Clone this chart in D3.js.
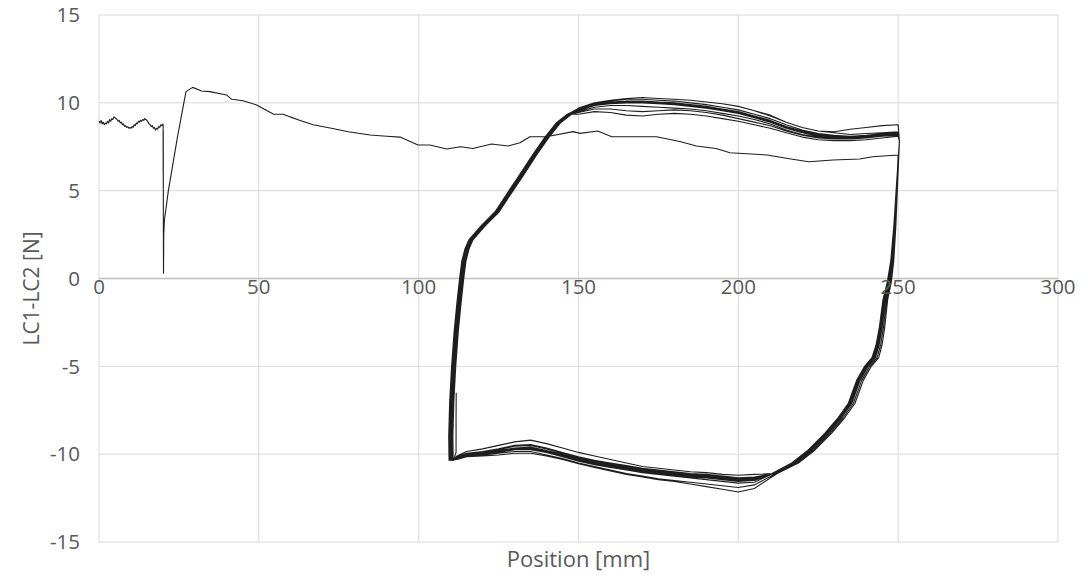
<!DOCTYPE html>
<html>
<head>
<meta charset="utf-8">
<script src="https://cdn.jsdelivr.net/npm/d3@7"></script>
<style>
  html, body { margin: 0; padding: 0; background: #ffffff; }
  svg { display: block; }
  text { font-family: "Open Sans", "Noto Sans", sans-serif; fill: #595959; }
</style>
</head>
<body>
<svg id="chart" width="1088" height="580"></svg>
<script>
// Axis ticks
const xTicks = [0, 50, 100, 150, 200, 250, 300];
const yTicks = [-15, -10, -5, 0, 5, 10, 15];
const xTitle = "Position [mm]";
const yTitle = "LC1-LC2 [N]";

// First stroke from the start position out to 250 mm: [position, force]
const firstPass = [
  [0.0, 8.95], [0.33, 8.85], [0.67, 9.0], [1.0, 8.8], [1.33, 8.9], [1.67, 8.75], [2.0, 8.85],
  [2.33, 8.8], [2.67, 8.95], [3.0, 8.85], [3.33, 9.05], [3.67, 8.95], [4.0, 9.1], [4.33, 9.05],
  [4.67, 9.2], [5.0, 9.15], [5.33, 9.1], [5.67, 9.05], [6.0, 8.95], [6.33, 9.0], [6.67, 8.85],
  [7.0, 8.9], [7.33, 8.75], [7.67, 8.8], [8.0, 8.65], [8.33, 8.7], [8.67, 8.6], [9.0, 8.65],
  [9.33, 8.55], [9.67, 8.6], [10.0, 8.55], [10.33, 8.65], [10.67, 8.6], [11.0, 8.75], [11.33, 8.7],
  [11.67, 8.85], [12.0, 8.8], [12.33, 8.95], [12.67, 8.9], [13.0, 9.0], [13.33, 8.95], [13.67, 9.05],
  [14.0, 9.0], [14.33, 9.1], [14.67, 9.05], [15.0, 9.0], [15.33, 8.9], [15.67, 8.8], [16.0, 8.75],
  [16.33, 8.65], [16.67, 8.7], [17.0, 8.55], [17.33, 8.6], [17.67, 8.45], [18.0, 8.55], [18.33, 8.5],
  [18.67, 8.65], [19.0, 8.6], [19.33, 8.75], [19.67, 8.7], [20.0, 8.8],
  [20.05, 8.7], [20.08, 6.0], [20.1, 8.4], [20.13, 3.0], [20.18, 0.3], [20.25, 2.5], [20.45, 3.3],
  [21.7, 5.0], [24.5, 8.0], [27.2, 10.64], [29.3, 10.88], [32.1, 10.67], [34.7, 10.64],
  [39.9, 10.45], [41.5, 10.2], [45.1, 10.12], [49.3, 9.88], [54.5, 9.36], [57.7, 9.35],
  [59.8, 9.2], [62.9, 9.0], [67.0, 8.75], [72.3, 8.57], [78.0, 8.35], [84.8, 8.17], [90.0, 8.1],
  [94.2, 8.05], [99.8, 7.6], [103.5, 7.6], [108.8, 7.37], [113.0, 7.5], [117.0, 7.4],
  [122.8, 7.66], [128.0, 7.54], [131.7, 7.73], [134.8, 8.07], [140.0, 8.07], [148.3, 8.36],
  [150.5, 8.26], [156.0, 8.4], [160.4, 8.07], [174.4, 8.07], [181.7, 7.8], [186.9, 7.54],
  [193.0, 7.4], [197.4, 7.16], [209.0, 7.03], [215.0, 6.85], [222.0, 6.65], [229.6, 6.75],
  [238.0, 6.8], [242.0, 6.93], [250.0, 7.03]
];

// Reversal at 250 mm (right flank), top to bottom
const rightX = [250.4, 249.6, 248.8, 247.9, 246.9, 245.6, 244.5, 243.5, 242.3, 240.0, 237.5, 234.9, 231.8, 227.6, 222.4, 217.2, 210.9];
const rightY = [7.8, 5.5, 3.0, 1.0, -0.2, -1.2, -2.8, -3.8, -4.5, -5.0, -5.8, -7.1, -7.9, -8.8, -9.76, -10.5, -11.1];
const rightW = [0, 0.15, 0.3, 0.45, 0.6, 0.7, 0.8, 0.9, 1, 1, 1, 1, 1, 1, 1, 1, 0.8];

// Reversal at 110 mm (left flank), bottom to top
const leftX = [110.0, 109.9, 110.2, 110.8, 111.6, 112.4, 113.3, 114.0, 115.0, 116.2, 120.0, 124.4, 128.0, 131.7, 136.0, 140.0, 143.5, 147.0];
const leftY = [-10.35, -9.0, -7.0, -5.0, -3.0, -1.5, 0.0, 1.0, 1.7, 2.2, 3.0, 3.8, 4.8, 5.8, 7.0, 8.05, 8.85, 9.35];

// Return stroke (250 -> 110 mm) stations and force per cycle
const bottomX = [205, 200, 195, 190, 185, 180, 175, 170, 165, 160, 155, 150, 145, 140, 135, 130, 125, 120, 115, 112];
const bottoms = [
  [-11.3, -11.35, -11.3, -11.2, -11.15, -11.05, -10.95, -10.85, -10.7, -10.55, -10.4, -10.2, -9.95, -9.7, -9.5, -9.55, -9.75, -9.9, -10.0, -10.2],
  [-11.4, -11.45, -11.35, -11.25, -11.2, -11.1, -11.0, -10.95, -10.8, -10.65, -10.5, -10.3, -10.05, -9.85, -9.65, -9.7, -9.85, -9.95, -10.05, -10.25],
  [-11.95, -12.15, -12.0, -11.85, -11.7, -11.55, -11.45, -11.3, -11.15, -10.95, -10.75, -10.55, -10.3, -10.1, -9.95, -9.95, -10.05, -10.1, -10.15, -10.3],
  [-11.5, -11.55, -11.45, -11.35, -11.3, -11.2, -11.1, -11.0, -10.85, -10.7, -10.55, -10.35, -10.1, -9.9, -9.7, -9.75, -9.9, -10.0, -10.1, -10.3],
  [-11.15, -11.2, -11.15, -11.05, -11.0, -10.9, -10.8, -10.7, -10.5, -10.3, -10.1, -9.9, -9.65, -9.4, -9.2, -9.3, -9.5, -9.7, -9.85, -10.1],
  [-11.45, -11.5, -11.4, -11.3, -11.25, -11.15, -11.05, -10.95, -10.8, -10.65, -10.45, -10.25, -10.0, -9.8, -9.6, -9.65, -9.8, -9.95, -10.05, -10.25],
  [-11.75, -11.9, -11.8, -11.7, -11.6, -11.5, -11.4, -11.25, -11.1, -10.9, -10.7, -10.5, -10.25, -10.05, -9.85, -9.85, -9.95, -10.05, -10.1, -10.3],
  [-11.3, -11.35, -11.25, -11.15, -11.1, -11.0, -10.9, -10.8, -10.65, -10.5, -10.35, -10.15, -9.9, -9.65, -9.45, -9.5, -9.7, -9.85, -9.95, -10.15],
  [-11.5, -11.5, -11.4, -11.3, -11.25, -11.15, -11.05, -11.0, -10.85, -10.7, -10.5, -10.3, -10.05, -9.85, -9.7, -9.75, -9.9, -10.0, -10.1, -10.25],
  [-11.4, -11.45, -11.35, -11.3, -11.2, -11.1, -11.0, -10.9, -10.75, -10.6, -10.45, -10.25, -10.0, -9.8, -9.6, -9.65, -9.85, -9.95, -10.05, -10.2],
  [-11.6, -11.65, -11.55, -11.45, -11.35, -11.25, -11.15, -11.05, -10.9, -10.75, -10.6, -10.4, -10.15, -9.9, -9.75, -9.75, -9.9, -10.0, -10.1, -10.3],
  [-11.45, -11.5, -11.4, -11.3, -11.2, -11.1, -11.0, -10.9, -10.8, -10.65, -10.5, -10.3, -10.05, -9.85, -9.65, -9.7, -9.85, -9.95, -10.05, -10.25],
  [-11.35, -11.4, -11.35, -11.25, -11.15, -11.05, -10.95, -10.9, -10.75, -10.6, -10.45, -10.25, -10.0, -9.8, -9.6, -9.65, -9.8, -9.95, -10.05, -10.2]
];

// Forward stroke (150 -> 250 mm) stations and force per cycle
const topX = [150, 155, 160, 165, 170, 175, 180, 185, 190, 195, 200, 205, 210, 215, 220, 225, 230, 235, 240, 245, 250];
const tops = [
  [9.55, 9.85, 10.0, 10.1, 10.1, 10.05, 10.0, 9.9, 9.8, 9.65, 9.5, 9.25, 9.0, 8.65, 8.4, 8.2, 8.1, 8.05, 8.1, 8.2, 8.25],
  [9.7, 10.0, 10.15, 10.25, 10.3, 10.25, 10.2, 10.15, 10.05, 9.95, 9.8, 9.55, 9.25, 8.9, 8.6, 8.4, 8.3, 8.2, 8.25, 8.3, 8.35],
  [9.35, 9.5, 9.45, 9.3, 9.25, 9.35, 9.4, 9.35, 9.25, 9.1, 8.95, 8.75, 8.55, 8.3, 8.05, 7.9, 7.85, 7.85, 7.9, 8.0, 8.1],
  [9.5, 9.75, 9.85, 9.85, 9.8, 9.75, 9.7, 9.65, 9.55, 9.4, 9.25, 9.05, 8.8, 8.45, 8.2, 8.05, 8.0, 7.95, 8.0, 8.1, 8.2],
  [9.6, 9.9, 10.05, 10.05, 10.0, 9.95, 9.9, 9.8, 9.7, 9.55, 9.4, 9.15, 8.9, 8.55, 8.3, 8.1, 8.05, 8.0, 8.05, 8.15, 8.2],
  [9.7, 10.0, 10.15, 10.25, 10.3, 10.25, 10.2, 10.15, 10.05, 9.95, 9.8, 9.55, 9.3, 8.9, 8.6, 8.4, 8.35, 8.5, 8.6, 8.7, 8.75],
  [9.55, 9.85, 9.95, 10.0, 10.0, 9.95, 9.9, 9.8, 9.7, 9.55, 9.4, 9.2, 8.95, 8.6, 8.35, 8.15, 8.05, 8.0, 8.05, 8.15, 8.2],
  [9.6, 9.9, 10.05, 10.1, 10.05, 10.0, 9.95, 9.85, 9.75, 9.6, 9.45, 9.2, 8.95, 8.6, 8.35, 8.1, 8.0, 7.95, 8.05, 8.2, 8.25],
  [9.65, 9.95, 10.1, 10.2, 10.2, 10.15, 10.1, 10.0, 9.9, 9.75, 9.6, 9.35, 9.1, 8.75, 8.45, 8.25, 8.15, 8.1, 8.15, 8.25, 8.3],
  [9.45, 9.65, 9.65, 9.55, 9.5, 9.55, 9.6, 9.55, 9.45, 9.3, 9.1, 8.9, 8.7, 8.4, 8.15, 8.0, 7.95, 7.95, 8.0, 8.1, 8.2],
  [9.6, 9.9, 10.0, 10.05, 10.05, 10.05, 10.0, 9.9, 9.8, 9.65, 9.45, 9.2, 8.95, 8.6, 8.35, 8.15, 8.1, 8.05, 8.1, 8.15, 8.2],
  [9.55, 9.85, 10.0, 10.05, 10.1, 10.05, 9.95, 9.85, 9.75, 9.6, 9.4, 9.15, 8.9, 8.55, 8.3, 8.1, 8.05, 8.0, 8.05, 8.1, 8.15]
];

// Per-cycle offset of the flanks along the position axis [mm]
const rightShift = [0, 0.5, 1.6, -0.3, 0.2, -0.5, 1.1, 0.3, -0.2, 0.6, 0.0, -0.4, 0.2];
const leftShift = [0, 0.5, -0.4, 0.3, 0.8, -0.3, 0.2, 0.6, -0.5, 0.35, 0.05, 0.45];

// Short rise at the end of the recording
const tail = [[111.0, -10.3], [111.7, -9.9], [111.7, -8.0], [111.75, -6.5]];

// ---- layout ----
const svg = d3.select("#chart");
const x = d3.scaleLinear().domain([0, 300]).range([99, 1058]);
const y = d3.scaleLinear().domain([-15, 15]).range([542, 15]);

// gridlines
const grid = svg.append("g");
grid.selectAll("line.vx").data(xTicks).join("line")
  .attr("x1", d => x(d)).attr("x2", d => x(d))
  .attr("y1", y(15)).attr("y2", y(-15))
  .attr("stroke", "#d9d9d9").attr("stroke-width", 1);
grid.selectAll("line.hy").data(yTicks.filter(d => d !== 0)).join("line")
  .attr("x1", x(0)).attr("x2", x(300))
  .attr("y1", d => y(d)).attr("y2", d => y(d))
  .attr("stroke", "#d9d9d9").attr("stroke-width", 1);
// zero axis line
grid.append("line")
  .attr("x1", x(0)).attr("x2", x(300))
  .attr("y1", y(0)).attr("y2", y(0))
  .attr("stroke", "#bfbfbf").attr("stroke-width", 1.3);

// build the full trace
const trace = firstPass.slice();
function addRight(shift) {
  const lastY = trace[trace.length - 1][1];
  rightX.forEach((px, i) => {
    if (rightY[i] <= lastY) trace.push([px + shift * rightW[i], rightY[i]]);
  });
}
for (let c = 0; c < bottoms.length; c++) {
  addRight(rightShift[c]);
  bottoms[c].forEach((v, i) => trace.push([bottomX[i], v]));
  if (c < tops.length) {
    leftX.forEach((px, i) => trace.push([px + leftShift[c], leftY[i]]));
    tops[c].forEach((v, i) => trace.push([topX[i], v]));
  }
}
tail.forEach(p => trace.push(p));

const line = d3.line().x(d => x(d[0])).y(d => y(d[1]));
svg.append("path")
  .attr("d", line(trace))
  .attr("fill", "none")
  .attr("stroke", "#1e1e1e")
  .attr("stroke-width", 1.1)
  .attr("stroke-linejoin", "round");

// tick labels
svg.append("g").selectAll("text").data(xTicks).join("text")
  .attr("x", d => x(d)).attr("y", y(0) + 15.5)
  .attr("text-anchor", "middle")
  .attr("font-size", 20.5)
  .text(d => d);
svg.append("g").selectAll("text").data(yTicks).join("text")
  .attr("x", x(0) - 19).attr("y", d => y(d))
  .attr("dy", "0.35em")
  .attr("text-anchor", "end")
  .attr("font-size", 20.5)
  .text(d => d);

// axis titles
svg.append("text")
  .attr("x", (x(0) + x(300)) / 2).attr("y", 567)
  .attr("text-anchor", "middle")
  .attr("font-size", 22)
  .text(xTitle);
svg.append("text")
  .attr("transform", `translate(39, ${(y(15) + y(-15)) / 2 + 10}) rotate(-90)`)
  .attr("text-anchor", "middle")
  .attr("font-size", 21)
  .text(yTitle);
</script>
</body>
</html>
